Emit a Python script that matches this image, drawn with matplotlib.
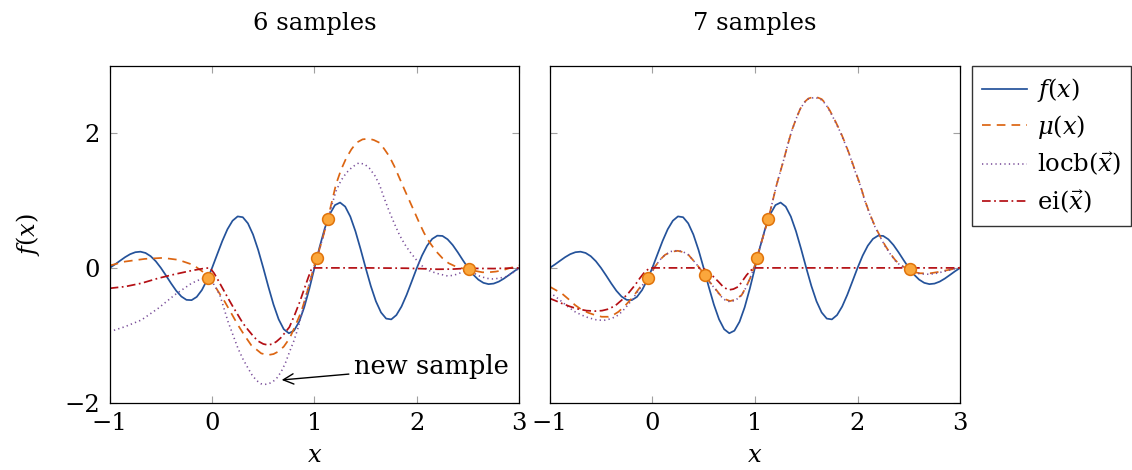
import numpy as np
import matplotlib
matplotlib.use("Agg")
import matplotlib.pyplot as plt

plt.rcParams['font.family'] = ['DejaVu Serif']
plt.rcParams['mathtext.fontset'] = 'dejavuserif'
plt.rcParams['font.size'] = 17

# objective f(x), sampled on a regular grid over [-1, 3]
x_f = np.linspace(-1, 3, 81)
f_vals = [0, 0.050, 0.105, 0.159, 0.204, 0.233, 0.241, 0.222, 0.174, 0.099,
          0, -0.113, -0.231, -0.340, -0.425, -0.475, -0.479, -0.431, -0.330, -0.183,
          0, 0.201, 0.400, 0.574, 0.701, 0.765, 0.753, 0.662, 0.496, 0.268,
          0, -0.281, -0.545, -0.763, -0.911, -0.971, -0.933, -0.800, -0.585, -0.309,
          0, 0.309, 0.585, 0.800, 0.933, 0.971, 0.911, 0.763, 0.545, 0.281,
          0, -0.268, -0.496, -0.662, -0.753, -0.765, -0.701, -0.574, -0.400, -0.201,
          0, 0.183, 0.330, 0.431, 0.479, 0.475, 0.425, 0.340, 0.231, 0.113,
          0, -0.099, -0.174, -0.222, -0.241, -0.233, -0.204, -0.159, -0.105, -0.050, 0]

# --- 6 samples ---
mu6 = [(-1, 0.035), (-0.85, 0.094), (-0.656, 0.134), (-0.48, 0.149), (-0.33, 0.12),
       (-0.185, 0.045), (-0.07, -0.08), (0, -0.2), (0.06, -0.35), (0.123, -0.50),
       (0.19, -0.68), (0.253, -0.85), (0.32, -1.01), (0.383, -1.15), (0.48, -1.27),
       (0.546, -1.295), (0.60, -1.28), (0.643, -1.246), (0.70, -1.17), (0.757, -1.047),
       (0.81, -0.87), (0.871, -0.65), (0.915, -0.43), (0.952, -0.23), (1.0, 0.045),
       (1.023, 0.144), (1.08, 0.44), (1.13, 0.73), (1.21, 1.24), (1.26, 1.46),
       (1.31, 1.63), (1.36, 1.76), (1.41, 1.86), (1.47, 1.91), (1.53, 1.92),
       (1.58, 1.90), (1.635, 1.86), (1.68, 1.77), (1.73, 1.66), (1.78, 1.51),
       (1.83, 1.335), (1.88, 1.16), (1.93, 0.99), (1.98, 0.82), (2.025, 0.665),
       (2.07, 0.52), (2.12, 0.39), (2.18, 0.26), (2.25, 0.144), (2.31, 0.07),
       (2.38, 0.02), (2.44, -0.005), (2.507, -0.02), (2.57, -0.045), (2.64, -0.065),
       (2.70, -0.065), (2.77, -0.055), (2.84, -0.035), (2.90, -0.005), (3.0, 0.035)]

locb6 = [(-1, -0.948), (-0.85, -0.873), (-0.69, -0.774), (-0.526, -0.60), (-0.364, -0.40),
         (-0.20, -0.228), (-0.10, -0.16), (-0.044, -0.16), (0.02, -0.25), (0.075, -0.40),
         (0.116, -0.60), (0.156, -0.80), (0.205, -1.00), (0.253, -1.196), (0.30, -1.35),
         (0.351, -1.49), (0.39, -1.59), (0.432, -1.67), (0.475, -1.72), (0.513, -1.732),
         (0.555, -1.72), (0.595, -1.69), (0.636, -1.63), (0.676, -1.54), (0.717, -1.41),
         (0.757, -1.245), (0.80, -1.08), (0.838, -0.90), (0.88, -0.66), (0.919, -0.40),
         (0.955, -0.2), (0.984, -0.055), (1.023, 0.144), (1.08, 0.44), (1.13, 0.73),
         (1.21, 1.14), (1.26, 1.30), (1.31, 1.41), (1.37, 1.50), (1.433, 1.56),
         (1.49, 1.54), (1.537, 1.48), (1.59, 1.37), (1.635, 1.236), (1.68, 1.04),
         (1.73, 0.84), (1.78, 0.66), (1.83, 0.49), (1.88, 0.355), (1.93, 0.243),
         (2.0, 0.11), (2.058, 0.02), (2.12, -0.04), (2.19, -0.08), (2.30, -0.12),
         (2.36, -0.11), (2.415, -0.08), (2.46, -0.05), (2.507, -0.02), (2.56, -0.08),
         (2.61, -0.12), (2.68, -0.155), (2.74, -0.164), (2.80, -0.155), (2.87, -0.13),
         (2.94, -0.07), (3.0, 0)]

ei6 = [(-1, -0.303), (-0.85, -0.278), (-0.69, -0.228), (-0.526, -0.154), (-0.364, -0.094),
       (-0.20, -0.04), (-0.07, -0.005), (-0.02, 0), (0.02, -0.08), (0.058, -0.18),
       (0.105, -0.31), (0.156, -0.45), (0.205, -0.58), (0.253, -0.70), (0.30, -0.82),
       (0.351, -0.92), (0.40, -1.01), (0.448, -1.087), (0.50, -1.13), (0.546, -1.146),
       (0.59, -1.13), (0.627, -1.097), (0.67, -1.04), (0.708, -0.97), (0.755, -0.88),
       (0.806, -0.70), (0.855, -0.51), (0.903, -0.30), (0.94, -0.14), (0.975, 0),
       (1.5, 0), (1.9, -0.005), (2.05, -0.012), (2.2, -0.02), (2.35, -0.018),
       (2.5, -0.005), (2.6, -0.008), (2.75, -0.01), (3.0, 0)]

samples6_x = [-0.044, 1.023, 1.13, 2.509]
samples6_y = [-0.155, 0.144, 0.73, -0.02]

# --- 7 samples ---
mu7 = [(-1, -0.279), (-0.94, -0.33), (-0.883, -0.378), (-0.82, -0.46), (-0.753, -0.552),
       (-0.69, -0.62), (-0.623, -0.667), (-0.56, -0.70), (-0.493, -0.726), (-0.428, -0.726),
       (-0.38, -0.70), (-0.33, -0.652), (-0.265, -0.56), (-0.20, -0.453), (-0.15, -0.35),
       (-0.103, -0.254), (-0.045, -0.164), (-0.01, -0.07), (0.027, 0.02), (0.075, 0.12),
       (0.124, 0.194), (0.185, 0.24), (0.248, 0.254), (0.30, 0.235), (0.352, 0.194),
       (0.40, 0.11), (0.449, 0.02), (0.517, -0.114), (0.56, -0.21), (0.611, -0.303),
       (0.66, -0.40), (0.71, -0.465), (0.758, -0.493), (0.81, -0.47), (0.871, -0.403),
       (0.915, -0.28), (0.953, -0.154), (1.0, 0.045), (1.017, 0.144), (1.075, 0.44),
       (1.131, 0.731), (1.212, 1.239), (1.277, 1.587), (1.318, 1.82), (1.358, 2.035),
       (1.40, 2.21), (1.44, 2.358), (1.48, 2.46), (1.521, 2.517), (1.586, 2.547),
       (1.651, 2.507), (1.69, 2.44), (1.732, 2.333), (1.78, 2.19), (1.83, 2.035),
       (1.88, 1.85), (1.927, 1.662), (1.975, 1.45), (2.025, 1.239), (2.07, 1.01),
       (2.122, 0.791), (2.17, 0.62), (2.22, 0.468), (2.27, 0.33), (2.317, 0.219),
       (2.365, 0.12), (2.415, 0.045), (2.506, -0.03), (2.56, -0.065), (2.61, -0.08),
       (2.707, -0.08), (2.77, -0.065), (2.837, -0.045), (2.92, -0.02), (3.0, 0.005)]

locb7 = [(-1, -0.363), (-0.94, -0.43), (-0.883, -0.50), (-0.82, -0.58), (-0.753, -0.652),
         (-0.69, -0.70), (-0.623, -0.741), (-0.55, -0.77), (-0.477, -0.781), (-0.40, -0.755),
         (-0.33, -0.70), (-0.265, -0.60), (-0.20, -0.478), (-0.15, -0.37), (-0.103, -0.269),
         (-0.045, -0.164), (-0.01, -0.07), (0.027, 0.02), (0.075, 0.12), (0.124, 0.194),
         (0.185, 0.245), (0.248, 0.26), (0.30, 0.24), (0.352, 0.194), (0.40, 0.11),
         (0.449, 0.02), (0.517, -0.114), (0.56, -0.215), (0.611, -0.31), (0.66, -0.41),
         (0.71, -0.478), (0.758, -0.505), (0.81, -0.48), (0.871, -0.41), (0.915, -0.285),
         (0.953, -0.154), (1.0, 0.045), (1.017, 0.144), (1.075, 0.44), (1.131, 0.731),
         (1.212, 1.239), (1.277, 1.587), (1.318, 1.82), (1.358, 2.035), (1.40, 2.21),
         (1.44, 2.355), (1.48, 2.455), (1.521, 2.51), (1.586, 2.535), (1.651, 2.495),
         (1.69, 2.43), (1.732, 2.325), (1.78, 2.18), (1.83, 2.025), (1.88, 1.84),
         (1.927, 1.655), (1.975, 1.44), (2.025, 1.23), (2.07, 1.0), (2.122, 0.785),
         (2.17, 0.61), (2.22, 0.46), (2.27, 0.32), (2.317, 0.21), (2.365, 0.11),
         (2.415, 0.04), (2.506, -0.03), (2.56, -0.07), (2.61, -0.09), (2.707, -0.095),
         (2.77, -0.08), (2.837, -0.055), (2.92, -0.025), (3.0, 0.0)]

ei7 = [(-1, -0.453), (-0.94, -0.49), (-0.883, -0.527), (-0.80, -0.575), (-0.72, -0.612),
       (-0.64, -0.635), (-0.558, -0.642), (-0.49, -0.635), (-0.428, -0.612), (-0.36, -0.56),
       (-0.298, -0.478), (-0.23, -0.37), (-0.168, -0.254), (-0.12, -0.15), (-0.071, -0.055),
       (-0.022, 0), (0.48, 0), (0.51, -0.02), (0.546, -0.055), (0.595, -0.13),
       (0.644, -0.204), (0.69, -0.28), (0.741, -0.328), (0.79, -0.315), (0.838, -0.279),
       (0.88, -0.19), (0.92, -0.104), (0.985, 0), (3.0, 0)]

samples7_x = [-0.044, 0.517, 1.023, 1.13, 2.509]
samples7_y = [-0.155, -0.105, 0.144, 0.73, -0.02]

titles = ['6 samples', '7 samples']
labels = [r'$f(x)$', r'$\mu(x)$', r'$\mathrm{locb}(\vec{x})$', r'$\mathrm{ei}(\vec{x})$']

c_f = '#24529a'
c_mu = '#dc6512'
c_locb = '#7a4f9a'
c_ei = '#b40f14'
c_pt = '#fba73c'
c_pt_edge = '#e0730a'

fig = plt.figure(figsize=(11.32, 4.70), dpi=100)
ax1 = fig.add_axes([0.0969, 0.1436, 0.3618, 0.716])
ax2 = fig.add_axes([0.4856, 0.1436, 0.3626, 0.716])

panels = [(ax1, mu6, locb6, ei6, samples6_x, samples6_y),
          (ax2, mu7, locb7, ei7, samples7_x, samples7_y)]

for i, (ax, mu, locb, ei, sx, sy) in enumerate(panels):
    mx, my = zip(*mu)
    lx, ly = zip(*locb)
    ex, ey = zip(*ei)
    ax.plot(x_f, f_vals, color=c_f, lw=1.25, label=labels[0])
    ax.plot(mx, my, color=c_mu, lw=1.25, dashes=(5, 3.5), label=labels[1])
    ax.plot(lx, ly, color=c_locb, lw=1.15, dashes=(0.8, 2.0), label=labels[2])
    ax.plot(ex, ey, color=c_ei, lw=1.25, dashes=(5, 2, 1, 2), label=labels[3])
    ax.plot(sx, sy, 'o', ms=8.5, mfc=c_pt, mec=c_pt_edge, mew=1.1, zorder=5)

    ax.set_xlim(-1, 3)
    ax.set_ylim(-2, 3)
    ax.set_xticks([-1, 0, 1, 2, 3])
    ax.set_yticks([-2, 0, 2])
    ax.tick_params(direction='in', length=5, width=0.8, color='#a0a0a0',
                   top=True, right=True, labelsize=17.5, pad=7)
    for sp in ax.spines.values():
        sp.set_linewidth(0.9)
    ax.set_title(titles[i], fontsize=17.5, pad=26)
    ax.set_xlabel(r'$x$', fontsize=17.5, labelpad=6)

ax2.set_yticklabels([])
ax1.set_ylabel(r'$f(x)$', fontsize=17.5, labelpad=16)

ax1.annotate('new sample', xy=(0.68, -1.665), xytext=(1.39, -1.47),
             fontsize=18.5, va='center', ha='left',
             arrowprops=dict(arrowstyle='->', color='black', lw=1.0,
                             shrinkA=2, shrinkB=0))

handles, _ = ax1.get_legend_handles_labels()
fig.legend(handles, labels, loc='upper left', bbox_to_anchor=(0.8587, 0.8596),
           frameon=True, fancybox=False, edgecolor='black', fontsize=17.5,
           handlelength=1.85, handletextpad=0.4, labelspacing=0.36,
           borderpad=0.42, borderaxespad=0)

fig.savefig('out.png', dpi=100)
